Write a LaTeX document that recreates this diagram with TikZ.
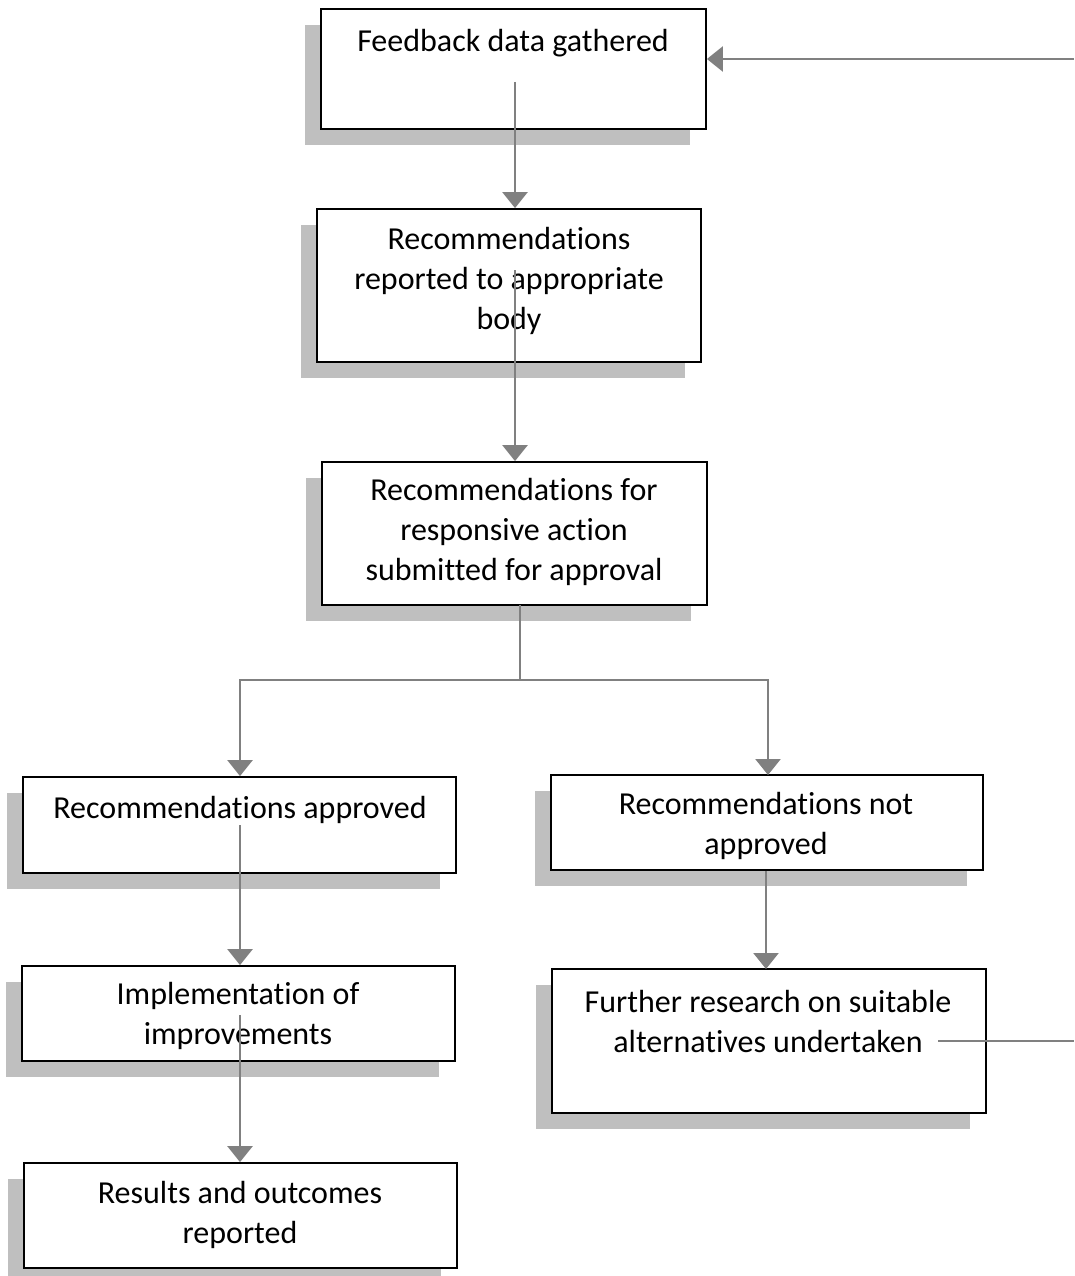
\documentclass[tikz,border=0pt]{standalone}
\usepackage{fontspec}
\setmainfont{Carlito}[Ligatures=NoCommon]
\usetikzlibrary{arrows.meta,shadows}
\definecolor{shadegray}{HTML}{BFBFBF}
\definecolor{linkgray}{HTML}{808080}
\begin{document}
\begin{tikzpicture}[x=1pt,y=-1pt,
  stepbox/.style={draw=black,line width=1.8pt,fill=white,rectangle,inner sep=0pt,
    drop shadow={shadow xshift=-16pt,shadow yshift=-16pt,fill=shadegray,opacity=1}},
  label text/.style={inner sep=0pt,align=center,font=\fontsize{32}{40}\selectfont},
  link/.style={draw=linkgray,line width=2.6pt},
  arrow/.style={link,-{Triangle[width=25pt,length=16pt]}},
  thinlink/.style={draw=linkgray,line width=1.6pt}]
\useasboundingbox (0,0) rectangle (1074,1276);

% boxes (centre, size)
\node[stepbox,minimum width=385pt,minimum height=120pt] (b1) at (513.5,69) {};
\node[stepbox,minimum width=384pt,minimum height=153pt] (b2) at (509,285.5) {};
\node[stepbox,minimum width=385pt,minimum height=143pt] (b3) at (514.5,533.5) {};
\node[stepbox,minimum width=433pt,minimum height=96pt] (b4) at (239.5,825) {};
\node[stepbox,minimum width=432pt,minimum height=95pt] (b5) at (767,822.5) {};
\node[stepbox,minimum width=433pt,minimum height=95pt] (b6) at (238.5,1013.5) {};
\node[stepbox,minimum width=433pt,minimum height=105pt] (b7) at (240.5,1215.5) {};
\node[stepbox,minimum width=434pt,minimum height=144pt] (b8) at (769,1041) {};

% texts
\node[label text] (t1) at (513,43) {Feedback data gathered};
\node[label text] (t2) at (509,281) {Recommendations\\reported to appropriate\\body};
\node[label text] (t3) at (514,532) {Recommendations for\\responsive action\\submitted for approval};
\node[label text] (t4) at (240,810) {Recommendations approved};
\node[label text] (t5) at (766,826) {Recommendations not\\approved};
\node[label text] (t6) at (238,1016) {Implementation of\\improvements};
\node[label text] (t7) at (240,1215) {Results and outcomes\\reported};
\node[label text] (t8) at (768,1021) {Further research on suitable\\alternatives undertaken};

% connector end points
\coordinate (s1) at (515,82);
\coordinate (s2) at (515,270);
\coordinate (s3) at (520,605);
\coordinate (fork) at (520,680);
\coordinate (s4) at (240,825);
\coordinate (s6) at (240,1015);
\coordinate (back) at (1074,59);
\coordinate (s8) at (938,1041);
\coordinate (out) at (1074,1041);

% connectors
\draw[arrow] (s1) -- (s1 |- b2.north);
\draw[arrow] (s2) -- (s2 |- b3.north);
\draw[link] (s3) -- (fork);
\draw[arrow] (fork) -| (s4 |- b4.north);
\draw[arrow] (fork) -| (768,775);
\draw[arrow] (s4) -- (s4 |- b6.north);
\draw[arrow] (b5.south -| 766,0) -- (766,969);
\draw[arrow] (s6) -- (s6 |- b7.north);
\draw[arrow] (back) -- (back -| b1.east);
\draw[thinlink] (s8) -- (out);
\end{tikzpicture}
\end{document}
